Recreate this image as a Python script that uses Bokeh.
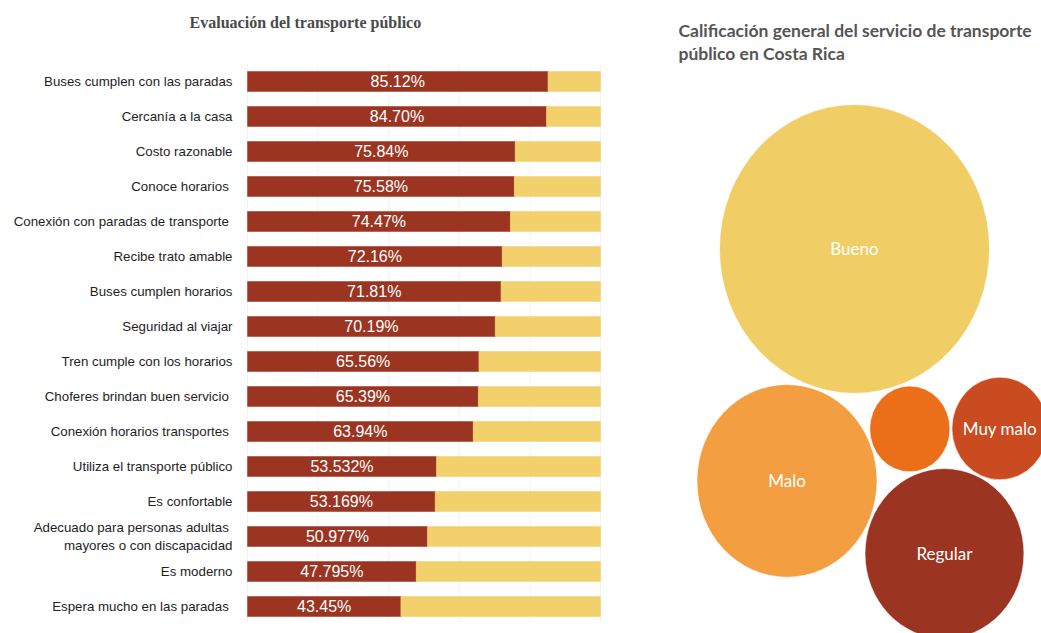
import math

from bokeh.core.properties import value
from bokeh.embed import file_html
from bokeh.layouts import row
from bokeh.models import ColumnDataSource, Range1d
from bokeh.plotting import figure
from bokeh.resources import INLINE

# ---------------------------------------------------------------------------
# Data
# ---------------------------------------------------------------------------
# Aspects of public transport and the share of favourable answers (%)
aspects = [
    "Buses cumplen con las paradas",
    "Cercanía a la casa",
    "Costo razonable",
    "Conoce  horarios",
    "Conexión  con paradas de transporte",
    "Recibe trato amable",
    "Buses cumplen horarios",
    "Seguridad al viajar",
    "Tren cumple con los horarios",
    "Choferes brindan  buen servicio",
    "Conexión  horarios transportes",
    "Utiliza el transporte público",
    "Es confortable",
    "Adecuado  para personas adultas\nmayores o con discapacidad",
    "Es moderno",
    "Espera mucho  en las paradas",
]
favourable_txt = [
    "85.12", "84.70", "75.84", "75.58", "74.47", "72.16", "71.81", "70.19",
    "65.56", "65.39", "63.94", "53.532", "53.169", "50.977", "47.795", "43.45",
]
favourable = [float(s) for s in favourable_txt]
remainder = [100 - v for v in favourable]
grid_ticks = [0, 20, 40, 60, 80, 100]

# Overall rating of the service (share of respondents, %)
ratings = ["Bueno", "Malo", "Regular", "Muy malo", "Muy bueno"]
rating_share = [49.9, 22.2, 17.3, 6.3, 4.4]
rating_labels = ["Bueno", "Malo", "Regular", "Muy malo", ""]
rating_colors = ["#F1CD65", "#F39F41", "#9B3522", "#CA4B20", "#EB6E19"]

RED = "#9B3522"
YELLOW = "#F2D06B"

# ---------------------------------------------------------------------------
# Left: stacked horizontal bars
# ---------------------------------------------------------------------------
left = figure(
    width=670, height=633,
    x_range=Range1d(-69.97, 119.83),
    y_range=Range1d(15.771, -2.314),
    x_axis_type=None, y_axis_type=None,
    output_backend="svg", toolbar_location=None,
    min_border=0, outline_line_color=None,
    background_fill_color="white", border_fill_color="white",
)
left.grid.visible = False

rows = list(range(len(aspects)))
bars = ColumnDataSource(dict(
    y=rows,
    fav=favourable,
    rest=remainder,
    total=[f + r for f, r in zip(favourable, remainder)],
    mid=[v / 2 for v in favourable],
    label=aspects,
    txt=[s + "%" for s in favourable_txt],
))

left.segment(x0=grid_ticks, y0=-0.5, x1=grid_ticks, y1=15.45,
             line_color="#f3f3f3", line_width=1)

left.hbar(y="y", left=0, right="fav", height=0.57, source=bars,
          fill_color=RED, line_color=RED, line_width=0.5)
left.hbar(y="y", left="fav", right="total", height=0.57, source=bars,
          fill_color=YELLOW, line_color=YELLOW, line_width=0.5)

left.text(x="mid", y="y", text="txt", source=bars,
          text_align="center", text_baseline="middle",
          text_font=value("Liberation Sans"), text_font_size="16px",
          text_color="white")

left.text(x=-4.25, y="y", text="label", source=bars,
          text_align="right", text_baseline="middle",
          text_font=value("Liberation Sans"), text_font_size="13.3px",
          text_color="#1e1e1e", text_line_height=1.2)

left.text(x=[16.4], y=[-1.69], text=["Evaluación del transporte público"],
          text_align="center", text_baseline="middle",
          text_font=value("Liberation Serif"), text_font_style="bold",
          text_font_size="16px", text_color="#4a4a4a")

# ---------------------------------------------------------------------------
# Right: packed bubbles (area proportional to share)
# ---------------------------------------------------------------------------
K = 19.11      # radius per sqrt(%)
GAP = 2.0      # spacing between neighbouring bubbles

radii = [K * math.sqrt(v) for v in rating_share]


def tangent(ca, ra, cb, rb, r, side):
    """Centre of a circle of radius r touching circles A and B."""
    dx, dy = cb[0] - ca[0], cb[1] - ca[1]
    d = math.hypot(dx, dy)
    da, db = ra + r + GAP, rb + r + GAP
    a = (da * da - db * db + d * d) / (2 * d)
    h = math.sqrt(max(da * da - a * a, 0.0))
    ux, uy = dx / d, dy / d
    return (ca[0] + a * ux - side * h * uy, ca[1] + a * uy + side * h * ux)


r_bueno, r_malo, r_regular, r_muymalo, r_muybueno = radii
c_bueno = (0.0, 0.0)
ang = math.radians(-107.3)
c_malo = ((r_bueno + r_malo + GAP) * math.cos(ang),
          (r_bueno + r_malo + GAP) * math.sin(ang))
c_muybueno = tangent(c_bueno, r_bueno, c_malo, r_malo, r_muybueno, +1)
c_regular = tangent(c_malo, r_malo, c_muybueno, r_muybueno, r_regular, -1)
c_muymalo = tangent(c_muybueno, r_muybueno, c_regular, r_regular, r_muymalo, +1)
centres = [c_bueno, c_malo, c_regular, c_muymalo, c_muybueno]

bubbles = ColumnDataSource(dict(
    x=[c[0] for c in centres],
    y=[c[1] for c in centres],
    d=[2 * r for r in radii],
    name=ratings,
    label=rating_labels,
    color=rating_colors,
))

right = figure(
    width=371, height=633,
    x_range=Range1d(-184, 187),
    y_range=Range1d(-359.4, 232.2),
    x_axis_type=None, y_axis_type=None,
    output_backend="svg", toolbar_location=None,
    min_border=0, outline_line_color=None,
    background_fill_color="white", border_fill_color="white",
)
right.grid.visible = False

right.ellipse(x="x", y="y", width="d", height="d", source=bubbles,
              fill_color="color", line_color="white", line_alpha=0.6,
              line_width=1)

right.text(x="x", y="y", text="label", source=bubbles,
           text_align="center", text_baseline="middle",
           text_font=value("Lato"), text_font_size="17px",
           text_color="white")

right.text(x=[-176], y=[214],
           text=["Calificación general del servicio de transporte\npúblico en Costa Rica"],
           text_align="left", text_baseline="top",
           text_font=value("Lato"), text_font_style="bold",
           text_font_size="17.5px", text_color="#555555",
           text_line_height=1.12)

layout = row(left, right)

open("out.html", "w").write(file_html(layout, INLINE))
